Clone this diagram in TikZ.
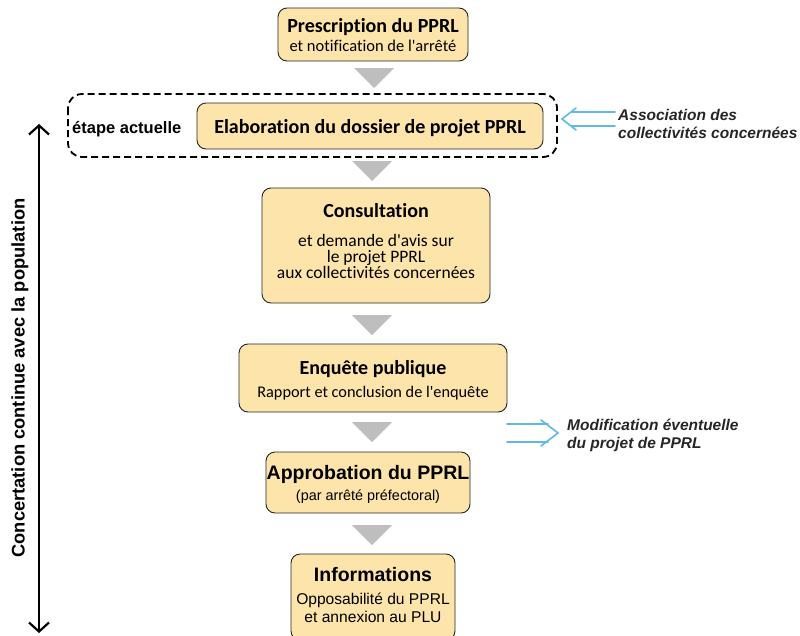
\documentclass[tikz,border=0pt]{standalone}
\usepackage{fontspec}
\setmainfont{Liberation Sans}
\newfontfamily\calfont[Ligatures=NoCommon]{Carlito}
\usetikzlibrary{arrows.meta,calc}
\definecolor{boxfill}{RGB}{252,228,170}
\definecolor{triGray}{RGB}{190,190,190}
\definecolor{lblue}{RGB}{95,185,230}
\tikzset{
  stepbox/.style={draw=black!85, fill=boxfill, rounded corners=9pt, line width=0.9pt, inner sep=0pt},
  txt/.style={anchor=base, inner sep=0pt},
  tri/.style={fill=triGray},
  barrow/.style={draw=lblue, line width=1.6pt, line cap=round, line join=round},
  sidelbl/.style={font=\fontsize{15.5}{18.5}\selectfont\bfseries\itshape, anchor=base west, text=black!85, inner sep=0pt}
}
\newcommand{\fcb}[1]{\calfont\bfseries\fontsize{#1}{#1}\selectfont}
\newcommand{\fcr}[1]{\calfont\fontsize{#1}{#1}\selectfont}
\newcommand{\fab}[1]{\bfseries\fontsize{#1}{#1}\selectfont}
\newcommand{\far}[1]{\fontsize{#1}{#1}\selectfont}
\begin{document}
\begin{tikzpicture}[x=1pt,y=-1pt]
\useasboundingbox (0,0) rectangle (800,635);
\fill[white] (0,0) rectangle (800,635);

% dashed frame
\draw[line width=1.8pt, dash pattern=on 7pt off 4pt, rounded corners=14pt] (68,94) rectangle (557,157);
\node[anchor=base west, font=\fab{16.5}, inner sep=0pt] (cur) at (72,133) {étape actuelle};

% boxes
\node[stepbox, minimum width=190pt, minimum height=53pt] (p1) at (373,34.5) {};
\node[txt, font=\fcb{20}] (p1t) at (373,32) {Prescription du PPRL};
\node[txt, font=\fcr{16.5}] (p1s) at (373,51) {et notification de l'arrêté};

\node[stepbox, minimum width=346pt, minimum height=46pt] (p2) at (370,126) {};
\node[txt, font=\fcb{20}] (p2t) at (370,133) {Elaboration du dossier de projet PPRL};

\node[stepbox, minimum width=228pt, minimum height=115pt] (p3) at (376,245.5) {};
\node[txt, font=\fcb{20}] (p3t) at (376,217) {Consultation};
\node[txt, font=\fcr{17.5}] (p3a) at (376,246) {et demande d'avis sur};
\node[txt, font=\fcr{17.5}] (p3b) at (376,262) {le projet PPRL};
\node[txt, font=\fcr{17.5}] (p3c) at (376,278) {aux collectivités concernées};

\node[stepbox, minimum width=268pt, minimum height=68pt] (p4) at (373,378) {};
\node[txt, font=\fcb{20}] (p4t) at (373,374) {Enquête publique};
\node[txt, font=\fcr{16.3}] (p4s) at (373,397) {Rapport et conclusion de l'enquête};

\node[stepbox, minimum width=204pt, minimum height=61pt] (p5) at (368,482.5) {};
\node[txt, font=\fab{19.5}] (p5t) at (368,479) {Approbation du PPRL};
\node[txt, font=\far{14.4}] (p5s) at (368,500) {(par arrêté préfectoral)};

\node[stepbox, minimum width=164pt, minimum height=86pt] (p6) at (373,597) {};
\node[txt, font=\fab{19.5}] (p6t) at (373,581) {Informations};
\node[txt, font=\far{15.6}] (p6a) at (373,604) {Opposabilité du PPRL};
\node[txt, font=\far{15.6}] (p6b) at (373,622) {et annexion au PLU};

% triangles between steps
\foreach \x/\yt in {374/68, 372/161, 372/315, 372/422, 372/525}{
  \fill[tri] (\x-20,\yt) -- (\x+20,\yt) -- (\x,\yt+20) -- cycle;
}

% left double arrow
\coordinate (lt) at (39,124);
\coordinate (lb) at (39,633);
\draw[line width=2.4pt, {Straight Barb[length=9pt,width=20pt,line width=2.2pt]}-{Straight Barb[length=9pt,width=20pt,line width=2.2pt]}] (lt) -- (lb);
\node[rotate=90, font=\fab{18.3}, inner sep=0pt] (conc) at (20,378) {Concertation continue avec la population};

% association arrow (pointing left)
\coordinate (a1) at (562,119);
\draw[barrow] (615,112) -- (572,112);
\draw[barrow] (615,126) -- (572,126);
\draw[barrow] (576,108) -- (a1) -- (576,130);
\node[sidelbl] (assoc1) at (618,120) {Association des};
\node[sidelbl] (assoc2) at (618,138) {collectivités concernées};

% modification arrow (pointing right)
\coordinate (m1) at (558,433);
\draw[barrow] (507,424) -- (548,424);
\draw[barrow] (507,442) -- (548,442);
\draw[barrow] (541,420) -- (m1) -- (541,446);
\node[sidelbl] (modif1) at (567,430) {Modification éventuelle};
\node[sidelbl] (modif2) at (567,448) {du projet de PPRL};
\end{tikzpicture}
\end{document}
